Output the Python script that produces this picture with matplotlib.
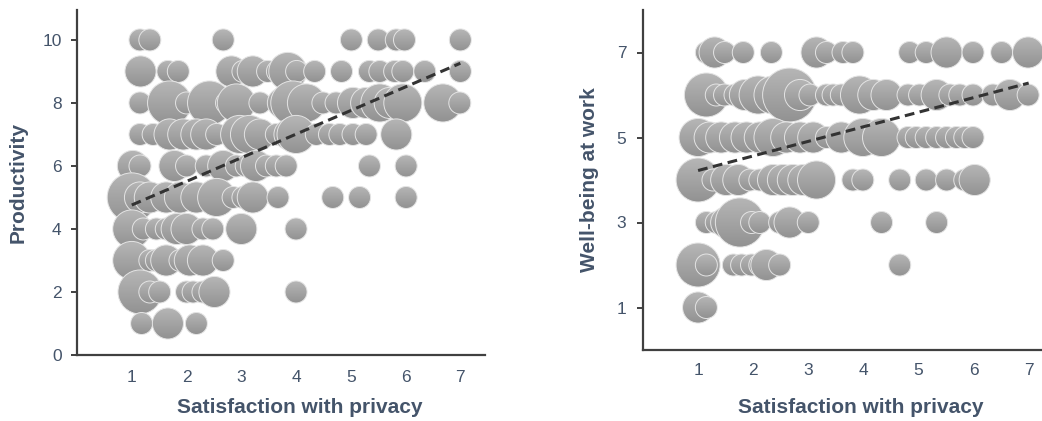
import numpy as np
import matplotlib
matplotlib.use("Agg")
import matplotlib.pyplot as plt
from matplotlib.patches import Ellipse
from matplotlib.colors import LinearSegmentedColormap

plt.rcParams['font.family'] = ['Liberation Sans', 'DejaVu Sans']

# ---------------- Left panel: Productivity ----------------
prod_y = [10]*8 + [9]*18 + [8]*20 + [7]*19 + [6]*14 + [5]*14 + [4]*10 + [3]*8 + [2]*8 + [1]*3
prod_x = [1.15, 1.33, 2.67, 5.01, 5.50, 5.83, 5.98, 7.00,
          1.16, 1.66, 1.85, 2.82, 3.03, 3.21, 3.48, 3.66, 3.85, 4.01, 4.34, 4.83, 5.34, 5.53, 5.80, 5.95, 6.35, 7.00,
          1.15, 1.69, 2.00, 2.24, 2.42, 2.73, 2.91, 3.34, 3.76, 3.94, 4.19, 4.49, 4.73, 5.04, 5.28, 5.53, 5.71, 5.95, 6.68, 6.99,
          1.15, 1.39, 1.69, 1.94, 2.18, 2.36, 2.55, 2.97, 3.15, 3.34, 3.64, 3.88, 4.00, 4.37, 4.61, 4.80, 5.04, 5.28, 5.83,
          1.02, 1.15, 1.78, 2.00, 2.36, 2.67, 2.91, 3.09, 3.27, 3.46, 3.64, 3.82, 5.34, 6.01,
          1.00, 1.15, 1.33, 1.63, 1.88, 2.18, 2.55, 2.85, 3.03, 3.21, 3.67, 4.67, 5.16, 6.01,
          1.00, 1.21, 1.45, 1.63, 1.82, 2.00, 2.30, 2.48, 3.00, 4.00,
          1.00, 1.33, 1.45, 1.63, 1.88, 2.06, 2.30, 2.67,
          1.15, 1.33, 1.51, 2.00, 2.12, 2.30, 2.51, 4.00,
          1.18, 1.66, 2.18]
prod_n = [1, 1, 1, 1, 1, 1, 1, 1,
          2, 1, 1, 2, 1, 2, 1, 1, 3, 1, 1, 1, 1, 1, 1, 1, 1, 1,
          1, 4, 1, 1, 4, 1, 3, 1, 2, 4, 3, 1, 1, 2, 2, 3, 2, 3, 3, 1,
          1, 1, 2, 2, 2, 2, 1, 3, 3, 2, 1, 2, 3, 1, 1, 1, 1, 1, 2,
          2, 1, 2, 1, 1, 2, 1, 1, 2, 1, 1, 1, 1, 1,
          5, 2, 2, 2, 2, 2, 3, 1, 1, 2, 1, 1, 1, 1,
          3, 1, 1, 1, 2, 2, 1, 1, 2, 1,
          3, 1, 1, 2, 1, 2, 2, 1,
          4, 1, 1, 1, 1, 1, 2, 1,
          1, 2, 1]
prod_trend = [4.01, 0.75]          # intercept, slope
prod_yticks = [0, 2, 4, 6, 8, 10]

# ---------------- Right panel: Well-being ----------------
well_y = [7]*15 + [6]*25 + [5]*22 + [4]*18 + [3]*11 + [2]*9 + [1]*2
well_x = [1.15, 1.30, 1.48, 1.82, 2.33, 3.15, 3.33, 3.63, 3.81, 4.84, 5.14, 5.51, 5.99, 6.51, 6.99,
          1.15, 1.33, 1.48, 1.67, 1.85, 2.09, 2.36, 2.66, 2.85, 3.03, 3.33, 3.45, 3.60, 3.93, 4.18, 4.42,
          4.81, 5.02, 5.33, 5.57, 5.75, 5.99, 6.35, 6.66, 6.99,
          1.00, 1.21, 1.42, 1.67, 1.88, 2.12, 2.36, 2.60, 2.85, 3.09, 3.33, 3.60, 3.99, 4.33,
          4.81, 4.96, 5.14, 5.33, 5.51, 5.69, 5.84, 5.99,
          1.00, 1.27, 1.51, 1.73, 1.94, 2.12, 2.36, 2.54, 2.72, 2.91, 3.15, 3.81, 3.99, 4.66, 5.14, 5.51, 5.84, 6.02,
          1.15, 1.33, 1.51, 1.76, 1.97, 2.12, 2.48, 2.66, 3.00, 4.33, 5.33,
          1.00, 1.15, 1.64, 1.79, 1.97, 2.12, 2.24, 2.48, 4.66,
          1.00, 1.15]
well_n = [1, 2, 1, 1, 1, 2, 1, 1, 1, 1, 1, 2, 1, 1, 2,
          4, 1, 1, 1, 2, 3, 3, 6, 2, 1, 1, 1, 1, 3, 2, 2,
          1, 1, 2, 1, 1, 1, 1, 2, 1,
          3, 2, 2, 2, 2, 2, 3, 2, 2, 2, 1, 2, 3, 3,
          1, 1, 1, 1, 1, 1, 1, 1,
          4, 1, 2, 2, 1, 1, 2, 2, 2, 2, 3, 1, 1, 1, 1, 1, 1, 2,
          1, 1, 2, 5, 1, 1, 1, 2, 1, 1, 1,
          4, 1, 1, 1, 1, 1, 2, 1, 1,
          2, 1]
well_trend = [3.88, 0.343]
well_yticks = [1, 3, 5, 7]

xticks = [1, 2, 3, 4, 5, 6, 7]
xlabel = "Satisfaction with privacy"

TEXT = '#44546a'
AXC = '#404040'
EDGE = '#e4e4e4'
R1 = 11.0   # radius (px) of a one-count bubble
DPI = 100
GRAD = LinearSegmentedColormap.from_list('g', ['#b6b6b6', '#929292'])
GRAD_IMG = np.linspace(0, 1, 64).reshape(-1, 1)

fig = plt.figure(figsize=(10.42, 4.21), dpi=DPI)
ax1 = fig.add_axes([77/1042, 66/421, 408/1042, 345/421])
ax2 = fig.add_axes([643/1042, 71/421, 400/1042, 340/421])


def style(ax, yticks, ylabel, xpad, ypad, xl_y, yl_x):
    ax.set_xticks(xticks)
    ax.set_yticks(yticks)
    for s in ['top', 'right']:
        ax.spines[s].set_visible(False)
    for s in ['left', 'bottom']:
        ax.spines[s].set_color(AXC)
        ax.spines[s].set_linewidth(1.6)
    ax.tick_params(axis='y', length=4, width=1.4, color=AXC, labelcolor=TEXT,
                   labelsize=12.5, pad=ypad)
    ax.tick_params(axis='x', length=0, labelcolor=TEXT, labelsize=12.5, pad=xpad)
    ax.set_xlabel(xlabel, fontsize=15, fontweight='bold', color=TEXT)
    ax.set_ylabel(ylabel, fontsize=15, fontweight='bold', color=TEXT)
    ax.xaxis.set_label_coords(0.545, xl_y)
    ax.yaxis.set_label_coords(yl_x, 0.5)


def bubbles(ax, xlim, ylim, x, y, n, trend):
    ax.set_xlim(*xlim)
    ax.set_ylim(*ylim)
    bb = ax.get_position()
    w_px = bb.width * fig.get_figwidth() * DPI
    h_px = bb.height * fig.get_figheight() * DPI
    ux = w_px / (xlim[1] - xlim[0])   # px per data unit
    uy = h_px / (ylim[1] - ylim[0])
    z = 2.0
    for xi, yi, ni in zip(x, y, n):
        r = R1 * np.sqrt(ni)
        rx, ry = r / ux, r / uy
        clip = Ellipse((xi, yi), 2 * rx, 2 * ry, transform=ax.transData,
                       facecolor='none', edgecolor='none')
        ax.add_patch(clip)
        im = ax.imshow(GRAD_IMG, cmap=GRAD, vmin=0, vmax=1, aspect='auto',
                       extent=(xi - rx, xi + rx, yi - ry, yi + ry),
                       interpolation='bilinear', zorder=z)
        im.set_clip_path(clip)
        ax.add_patch(Ellipse((xi, yi), 2 * rx, 2 * ry, facecolor='none',
                             edgecolor=EDGE, linewidth=0.7, zorder=z + 0.001))
        z += 0.002
    ax.set_xlim(*xlim)
    ax.set_ylim(*ylim)
    xx = np.array([1, 7])
    ax.plot(xx, trend[0] + trend[1] * xx, ls=(0, (3.2, 1.8)), color='#333333',
            lw=2.2, zorder=z + 1)


bubbles(ax1, (0, 7.45), (0, 10.95), prod_x, prod_y, prod_n, prod_trend)
bubbles(ax2, (0, 7.26), (0, 8), well_x, well_y, well_n, well_trend)

style(ax1, prod_yticks, "Productivity", 11, 7, -0.125, -0.12)
style(ax2, well_yticks, "Well-being at work", 9.5, 8, -0.14, -0.11)

fig.savefig("out.png", dpi=DPI)
